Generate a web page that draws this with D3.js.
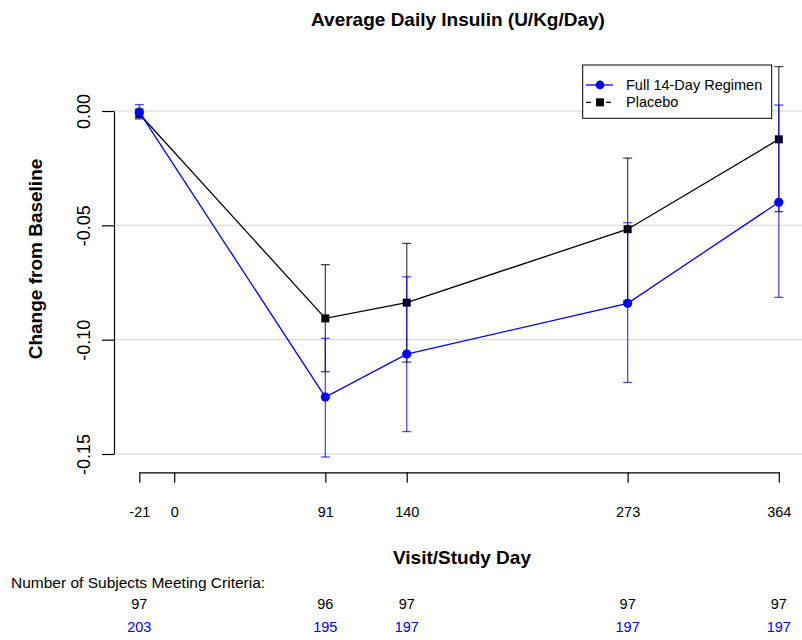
<!DOCTYPE html>
<html>
<head>
<meta charset="utf-8">
<script src="https://cdn.jsdelivr.net/npm/d3@7"></script>
<style>
  body { margin: 0; background: #fff; }
  svg { display: block; font-family: "Liberation Sans", Arial, sans-serif; }
</style>
</head>
<body>
<div id="chart"></div>
<script>
const days = [-21, 91, 140, 273, 364];
const xTicks = [-21, 0, 91, 140, 273, 364];
const yTicks = [0, -0.05, -0.10, -0.15];
const yTickLabels = ["0.00", "-0.05", "-0.10", "-0.15"];

// Full 14-Day Regimen (blue)
const fullMean  = [-0.0005, -0.1251, -0.1063, -0.0841, -0.0399];
const fullLower = [-0.0035, -0.1513, -0.1402, -0.1187, -0.0815];
const fullUpper = [ 0.0028, -0.0994, -0.0725, -0.0488,  0.0026];
const fullN     = [203, 195, 197, 197, 197];

// Placebo (black)
const placeboMean  = [-0.0012, -0.0907, -0.0838, -0.0517, -0.0124];
const placeboLower = [-0.0030, -0.1140, -0.1098, -0.0829, -0.0440];
const placeboUpper = [ 0.0008, -0.0672, -0.0579, -0.0206,  0.0194];
const placeboN     = [97, 96, 97, 97, 97];

function drawInsulinChart() {
  const width = 802;
  const height = 640;

  const x = d3.scaleLinear()
    .domain([-21, 364])
    .range([139.3, 778.8]);

  const y = d3.scaleLinear()
    .domain([0, -0.15])
    .range([111, 454]);

  const axisX = 114;
  const axisY = 472.3;

  const svg = d3.select("#chart")
    .append("svg")
    .attr("width", width)
    .attr("height", height);

  // gridlines
  svg.append("g")
    .selectAll("line")
    .data(yTicks)
    .join("line")
    .attr("x1", axisX)
    .attr("x2", width)
    .attr("y1", d => y(d))
    .attr("y2", d => y(d))
    .attr("stroke", "#d3d3d3")
    .attr("stroke-width", 1);

  // y axis
  const yAxis = svg.append("g")
    .attr("transform", `translate(${axisX},0)`)
    .call(d3.axisLeft(y)
      .tickValues(yTicks)
      .tickFormat((d, i) => yTickLabels[i])
      .tickSize(12)
      .tickSizeOuter(0));
  yAxis.selectAll(".tick text")
    .attr("transform", "rotate(-90)")
    .attr("x", 0)
    .attr("y", -24)
    .attr("dy", 0)
    .attr("text-anchor", "middle")
    .attr("fill", "#000")
    .style("font-size", "18px")
    .style("font-family", "'Liberation Sans', Arial, sans-serif");

  // x axis
  const xAxis = svg.append("g")
    .attr("transform", `translate(0,${axisY})`)
    .call(d3.axisBottom(x)
      .tickValues(xTicks)
      .tickFormat(d => String(d))
      .tickSize(10.5)
      .tickSizeOuter(0));
  xAxis.selectAll(".tick text")
    .attr("y", 45)
    .attr("dy", 0)
    .attr("fill", "#000")
    .style("font-size", "14.5px")
    .style("font-family", "'Liberation Sans', Arial, sans-serif");

  svg.selectAll(".domain, .tick line")
    .attr("stroke", "#000")
    .attr("stroke-width", 1.2);

  const series = [
    { name: "Placebo", color: "#000000", mean: placeboMean, lower: placeboLower, upper: placeboUpper, shape: "square" },
    { name: "Full 14-Day Regimen", color: "#0000ff", mean: fullMean, lower: fullLower, upper: fullUpper, shape: "circle" }
  ];

  const line = d3.line()
    .x(d => x(d.day))
    .y(d => y(d.value));

  series.forEach(s => {
    const pts = days.map((day, i) => ({
      day,
      value: s.mean[i],
      lo: s.lower[i],
      hi: s.upper[i]
    }));

    const g = svg.append("g");

    // error bars
    const bars = g.append("g")
      .attr("stroke", s.color)
      .attr("stroke-opacity", 0.7)
      .attr("stroke-width", 1.3);
    bars.selectAll("line.bar")
      .data(pts)
      .join("line")
      .attr("class", "bar")
      .attr("x1", d => x(d.day))
      .attr("x2", d => x(d.day))
      .attr("y1", d => y(d.hi))
      .attr("y2", d => y(d.lo));
    bars.selectAll("line.cap-hi")
      .data(pts)
      .join("line")
      .attr("class", "cap-hi")
      .attr("x1", d => x(d.day) - 4.5)
      .attr("x2", d => x(d.day) + 4.5)
      .attr("y1", d => y(d.hi))
      .attr("y2", d => y(d.hi));
    bars.selectAll("line.cap-lo")
      .data(pts)
      .join("line")
      .attr("class", "cap-lo")
      .attr("x1", d => x(d.day) - 4.5)
      .attr("x2", d => x(d.day) + 4.5)
      .attr("y1", d => y(d.lo))
      .attr("y2", d => y(d.lo));

    g.append("path")
      .datum(pts)
      .attr("d", line)
      .attr("fill", "none")
      .attr("stroke", s.color)
      .attr("stroke-width", 1.3);

    if (s.shape === "circle") {
      g.selectAll("circle")
        .data(pts)
        .join("circle")
        .attr("cx", d => x(d.day))
        .attr("cy", d => y(d.value))
        .attr("r", 4.6)
        .attr("fill", s.color);
    } else {
      g.selectAll("rect")
        .data(pts)
        .join("rect")
        .attr("x", d => x(d.day) - 4)
        .attr("y", d => y(d.value) - 4)
        .attr("width", 8)
        .attr("height", 8)
        .attr("fill", s.color);
    }
  });

  // legend
  const legend = svg.append("g");
  legend.append("rect")
    .attr("x", 582.7)
    .attr("y", 65)
    .attr("width", 189)
    .attr("height", 53.3)
    .attr("fill", "#fff")
    .attr("stroke", "#000")
    .attr("stroke-width", 1);

  legend.append("line")
    .attr("x1", 586).attr("x2", 613)
    .attr("y1", 85).attr("y2", 85)
    .attr("stroke", "#0000ff")
    .attr("stroke-width", 1.3);
  legend.append("circle")
    .attr("cx", 600).attr("cy", 85)
    .attr("r", 4.4)
    .attr("fill", "#0000ff");
  legend.append("text")
    .attr("x", 626).attr("y", 90)
    .style("font-size", "14.5px")
    .text("Full 14-Day Regimen");

  legend.append("line")
    .attr("x1", 586).attr("x2", 613)
    .attr("y1", 102.3).attr("y2", 102.3)
    .attr("stroke", "#000")
    .attr("stroke-width", 1.3)
    .attr("stroke-dasharray", "5,5");
  legend.append("rect")
    .attr("x", 596).attr("y", 98.3)
    .attr("width", 8).attr("height", 8)
    .attr("fill", "#000");
  legend.append("text")
    .attr("x", 626).attr("y", 107.3)
    .style("font-size", "14.5px")
    .text("Placebo");

  // titles
  svg.append("text")
    .attr("x", 458)
    .attr("y", 26)
    .attr("text-anchor", "middle")
    .style("font-size", "19px")
    .style("font-weight", "bold")
    .text("Average Daily Insulin (U/Kg/Day)");

  svg.append("text")
    .attr("transform", "translate(42,259) rotate(-90)")
    .attr("text-anchor", "middle")
    .style("font-size", "19px")
    .style("font-weight", "bold")
    .text("Change from Baseline");

  svg.append("text")
    .attr("x", 462)
    .attr("y", 564)
    .attr("text-anchor", "middle")
    .style("font-size", "19px")
    .style("font-weight", "bold")
    .text("Visit/Study Day");

  // subject counts
  svg.append("text")
    .attr("x", 11)
    .attr("y", 588)
    .style("font-size", "15.5px")
    .text("Number of Subjects Meeting Criteria:");

  svg.append("g")
    .selectAll("text")
    .data(days.map((day, i) => ({ day, n: placeboN[i] })))
    .join("text")
    .attr("x", d => x(d.day))
    .attr("y", 609)
    .attr("text-anchor", "middle")
    .style("font-size", "14.5px")
    .attr("fill", "#000")
    .text(d => d.n);

  svg.append("g")
    .selectAll("text")
    .data(days.map((day, i) => ({ day, n: fullN[i] })))
    .join("text")
    .attr("x", d => x(d.day))
    .attr("y", 632)
    .attr("text-anchor", "middle")
    .style("font-size", "14.5px")
    .attr("fill", "#0000ff")
    .text(d => d.n);
}

drawInsulinChart();
</script>
</body>
</html>
